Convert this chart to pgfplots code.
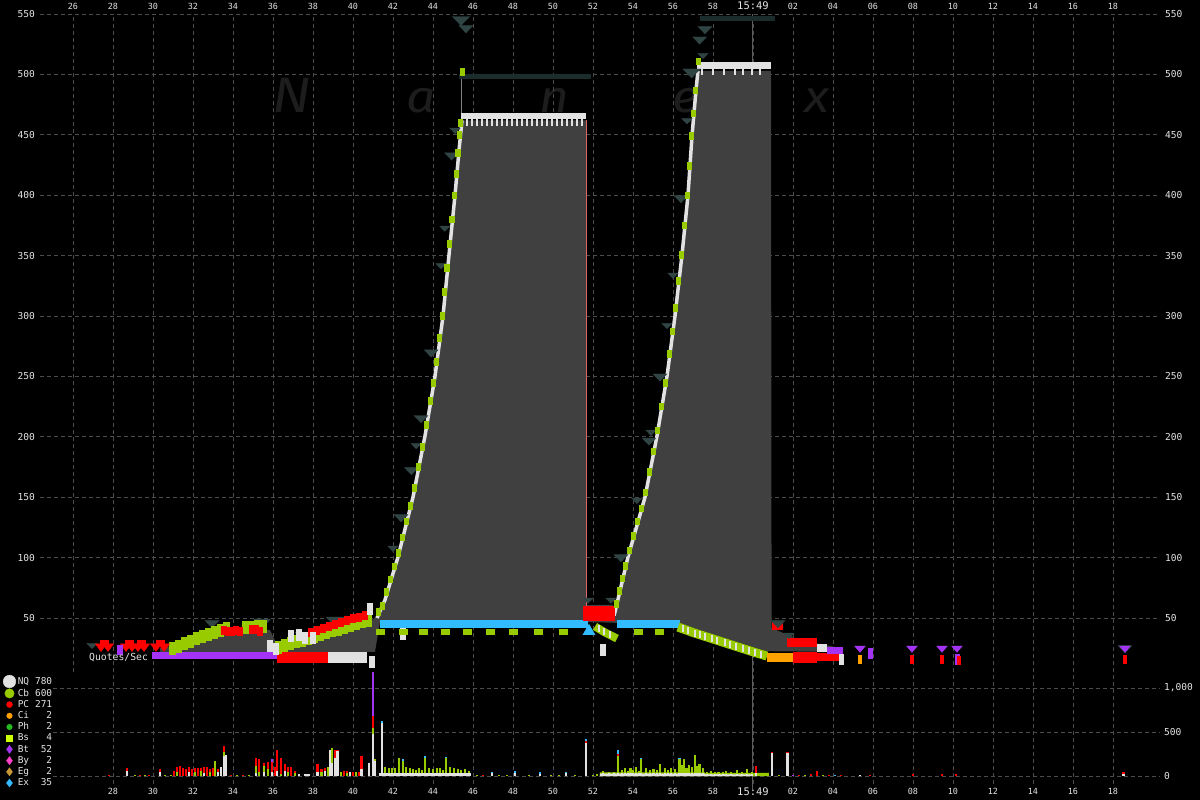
\documentclass[border=0pt]{standalone}
\usepackage{fontspec}
\setmonofont{DejaVu Sans Mono}
\newfontfamily\wmfont{Fira Sans}
\usepackage{pgfplots}
\usepackage{pgfplotstable}
\pgfplotsset{compat=1.18}

\definecolor{gridD}{HTML}{4C4C4C}
\definecolor{labW}{HTML}{E4E4E4}
\definecolor{sprd}{HTML}{404040}
\definecolor{cNQ}{HTML}{E2E2E2}
\definecolor{cCb}{HTML}{99CC00}
\definecolor{cPC}{HTML}{FF0000}
\definecolor{cCi}{HTML}{FFA200}
\definecolor{cPh}{HTML}{22BB22}
\definecolor{cBs}{HTML}{CCFF00}
\definecolor{cBt}{HTML}{A433F5}
\definecolor{cBy}{HTML}{FF40C8}
\definecolor{cEg}{HTML}{C89632}
\definecolor{cEx}{HTML}{33BBFF}
\definecolor{tri}{HTML}{304444}
\definecolor{triD}{HTML}{1B2C2C}
\definecolor{wmark}{HTML}{1D1D1D}
\definecolor{vline}{HTML}{5E5E5E}
\definecolor{pinkL}{HTML}{E06464}

\newcommand\ftx{\ttfamily\fontsize{8.5}{9}\selectfont}
\newcommand\fty{\ttfamily\fontsize{9.6}{10}\selectfont}
\newcommand\fth{\fontsize{10.5}{11}\selectfont}
\newcommand\lgd[2]{#1\makebox[23bp][r]{#2}}

\pgfplotsset{
  nxbase/.style={
    scale only axis, clip=false,
    axis line style={draw=none},
    major tick style={draw=none},
    grid style={gridD, line width=0.9bp, dash pattern=on 4bp off 3bp},
    xticklabel style={font=\ftx, text=labW, inner sep=0pt},
    yticklabel style={font=\fty, text=labW, inner sep=0pt},
  },
  tri/.style={only marks, mark=triangle*, color=tri,
    mark options={rotate=180, draw=none, yscale=0.6}},
  bar/.style={line width=#1, line cap=butt, mark=none},
  tall/.style={only marks, mark=square*, mark options={draw=none, yscale=#1}},
}

% quotes per second, stacked: white NQ, green Cb, red PC, blue Ex, purple Bt
\pgfplotstableread{
s w g r b p
27.8 0 0 15 0 0
28.7 60 0 27 0 0
29.1 0 15 0 0 0
29.35 0 0 15 0 0
29.6 0 15 0 0 0
29.8 0 0 15 0 0
30.35 40 0 40 0 0
30.6 0 15 0 0 0
30.9 0 15 0 0 0
31.05 0 0 60 0 0
31.2 0 40 60 0 0
31.35 0 0 110 0 0
31.5 0 0 90 0 0
31.65 0 0 85 0 0
31.8 40 0 60 0 0
31.95 0 0 80 0 0
32.1 0 40 50 0 0
32.25 0 0 90 0 0
32.4 0 60 30 0 0
32.55 30 0 70 0 0
32.7 0 0 100 0 0
32.85 0 50 30 0 0
33.0 0 0 90 0 0
33.1 0 170 0 0 0
33.25 40 0 40 0 0
33.4 100 0 0 0 0
33.55 230 40 70 0 0
33.65 240 0 0 0 0
33.9 0 0 10 0 0
34.2 0 10 0 0 0
34.5 0 0 15 0 0
34.8 0 10 0 0 0
35.17 30 80 100 0 0
35.32 0 40 150 0 0
35.55 50 60 40 0 0
35.74 0 80 75 0 0
35.97 40 0 120 0 30
36.09 0 0 100 0 0
36.2 60 0 235 0 0
36.4 0 20 190 0 0
36.6 60 0 80 0 0
36.74 0 40 60 0 0
36.9 0 0 100 0 0
37.1 0 30 30 0 0
37.3 20 0 0 0 0
37.6 20 0 0 0 0
37.7 20 0 0 0 0
37.8 20 0 0 0 0
38.23 50 0 86 0 0
38.43 0 50 30 0 0
38.62 60 0 30 0 0
38.77 0 100 0 0 0
38.85 295 0 0 0 0
38.95 150 164 0 0 0
39.1 200 0 100 0 0
39.23 280 0 20 0 0
39.4 0 40 0 0 0
39.55 0 0 60 0 0
39.7 0 30 30 0 0
39.85 50 0 0 0 0
40.0 0 0 40 0 0
40.15 0 50 0 0 0
40.3 0 0 40 0 0
40.43 80 0 150 0 0
40.8 150 0 0 0 0
41.0 475 75 130 0 500
41.12 170 20 0 0 0
41.45 600 0 0 25 0
41.6 30 70 0 0 0
41.8 30 60 0 0 0
41.95 30 60 0 0 0
42.1 30 60 0 0 0
42.3 30 170 0 0 0
42.5 30 140 0 20 0
42.65 30 70 0 0 0
42.85 30 60 0 0 0
43.0 30 50 0 0 0
43.15 30 40 0 0 0
43.3 30 60 0 0 0
43.45 30 40 0 0 0
43.6 30 180 0 15 0
43.8 30 60 0 0 0
44.0 30 55 0 0 0
44.2 30 60 0 0 0
44.35 30 60 0 0 0
44.5 30 40 0 0 0
44.65 30 170 0 20 0
44.85 30 70 0 0 0
45.05 30 60 0 0 0
45.25 30 55 0 0 0
45.4 30 40 0 0 0
45.6 30 50 0 0 0
45.8 30 30 0 0 0
46.2 0 15 0 0 0
46.5 0 0 10 0 0
46.94 30 0 0 20 0
47.3 0 15 0 0 0
47.7 0 15 0 0 0
48.1 30 0 0 25 0
48.8 0 15 0 0 0
49.35 20 0 0 20 0
49.9 0 15 0 0 0
50.3 0 15 0 0 0
50.67 30 0 0 20 0
51.1 0 15 0 0 0
51.65 370 0 25 30 0
52.0 0 15 0 0 0
52.2 0 20 0 0 0
52.5 30 30 0 0 0
52.8 30 20 0 0 0
53.05 30 20 0 0 0
53.27 30 200 20 40 0
53.45 30 40 0 0 0
53.6 30 60 0 0 0
53.75 30 30 0 0 0
53.88 30 60 0 0 0
54.0 30 40 0 0 0
54.17 30 70 0 0 0
54.3 30 30 0 0 0
54.42 30 160 0 10 0
54.65 30 60 0 0 0
54.85 30 40 0 0 0
55.03 30 50 0 0 0
55.2 30 40 0 0 0
55.37 30 110 0 0 0
55.6 30 60 0 0 0
55.75 30 40 0 0 0
55.89 30 60 0 0 0
56.1 30 50 0 0 0
56.33 30 160 0 20 0
56.45 30 90 0 0 0
56.56 30 160 0 0 0
56.68 30 60 0 0 0
56.79 30 90 0 0 0
56.95 30 70 0 0 0
57.11 30 210 0 0 0
57.22 30 80 0 0 0
57.33 30 105 0 0 0
57.52 30 60 0 0 0
57.7 20 30 0 0 0
57.9 20 40 0 0 0
58.1 20 20 0 0 0
58.28 20 30 0 0 0
58.5 20 20 0 0 0
58.66 20 40 0 0 0
58.9 20 20 0 0 0
59.2 20 50 0 0 0
59.45 20 20 0 0 0
59.72 20 60 0 0 0
59.95 20 20 0 0 0
60.16 30 0 80 0 0
60.39 0 30 0 0 0
60.6 0 20 0 0 0
60.77 0 20 0 0 0
60.96 265 0 5 0 0
61.3 0 10 0 0 0
61.73 265 0 5 0 0
62.0 0 0 0 0 10
62.3 0 0 10 0 0
62.6 0 10 0 0 0
62.9 0 0 20 0 0
63.22 0 0 60 0 0
63.5 0 10 0 0 0
63.8 0 0 10 0 0
64.1 0 0 0 10 0
64.4 0 0 10 0 0
65.35 10 0 0 0 0
65.85 0 0 10 0 0
68.0 0 0 20 0 0
69.44 0 0 20 0 0
70.15 0 0 20 0 0
78.53 20 0 20 0 0
}\voldata

\begin{document}
\begin{tikzpicture}
\fill[black] (0bp,0bp) rectangle (1200bp,800bp);
\path[use as bounding box] (0bp,0bp) rectangle (1200bp,800bp);

% watermark
\begin{scope}[every node/.style={text=wmark, inner sep=0pt, anchor=base, xscale=1.15}]
\node[font=\wmfont\itshape\fontsize{50}{50}\selectfont] at (292bp,687bp) {N};
\node[font=\wmfont\itshape\fontsize{45}{45}\selectfont] at (421bp,687bp) {a};
\node[font=\wmfont\itshape\fontsize{45}{45}\selectfont] at (554bp,687bp) {n};
\node[font=\wmfont\itshape\fontsize{45}{45}\selectfont] at (686bp,687bp) {e};
\node[font=\wmfont\itshape\fontsize{45}{45}\selectfont] at (817bp,687bp) {x};
\end{scope}

% ---------- price panel ----------
\begin{axis}[nxbase, at={(40bp,128bp)}, anchor=south west,
  width=1120bp, height=658bp,
  xmin=24.35, xmax=80.35, ymin=5.3, ymax=550,
  xtick={26,28,...,78},
  xticklabels={26,28,30,32,34,36,38,40,42,44,46,48,50,52,54,56,58,{\fth 15:49},02,04,06,08,10,12,14,16,18},
  xticklabel pos=upper,
  xticklabel style={anchor=south, yshift=4bp},
  ytick={50,100,...,550},
  yticklabels={50,100,150,200,250,300,350,400,450,500,550},
  yticklabel style={anchor=east, xshift=-5bp},
  grid=major]

\addplot[vline, line width=1bp] coordinates {(60,5.3) (60,550)};
\addplot[gray, line width=1bp] coordinates {(45.45,465) (45.45,500)};

% NBBO spread
\addplot[fill=sprd, draw=none] coordinates {
 (30.35,25.2) (31.0,27) (32.35,31.8) (33.7,40.5) (34.35,40.1) (35.85,40.1)
 (36.2,27.6) (37.35,31.8) (38.85,38.4) (40.35,44.2) (40.95,48.3) (41.25,52.5)
 (41.6,65) (42.25,100.5) (43.0,150) (43.6,200.7) (44.1,250) (44.5,300)
 (44.8,350.5) (45.1,400) (45.3,437) (45.45,462) (51.65,462) (51.67,60.8)
 (53.0,60.8) (53.1,55) (53.75,100.5) (54.6,150) (55.2,200.7) (55.7,250)
 (56.1,300) (56.45,350.5) (56.75,400) (56.95,449) (57.15,487) (57.25,503)
 (60.9,503) (60.93,41.7) (62.35,31.8) (64.35,25.2)
 (64.35,21.9) (60.9,22.5) (60.7,22.5) (60.0,26) (59.25,30) (58.5,34)
 (57.75,38) (57.0,42) (56.25,46) (53.2,46) (51.65,46.7) (41.35,46.7)
 (41.1,22) (30.35,22)};

\addplot[pinkL, line width=1bp] coordinates {(51.68,60) (51.68,462)};

% dark trade bands at top
\addplot[triD, bar=5bp] coordinates {(45.3,498.5) (51.9,498.5)};
\addplot[triD, bar=5bp] coordinates {(57.35,546) (61.1,546)};

% dark triangles
\addplot[tri, mark size=10bp] coordinates {
 (35.45,46.7) (39.1,48.3) (45.4,545.4) (56.93,502)};
\addplot[tri, mark size=8bp] coordinates {
 (32.95,45.9) (40.6,50.8) (42.4,133.6) (42.92,172.5) (43.4,215.6)
 (43.91,270) (44.93,433) (45.65,538.4) (53.4,100.5) (54.8,197) (55.35,250)
 (56.4,397.7) (57.6,537.6) (57.33,529) (61.25,45.9) (78.6,25.2)};
\addplot[tri, mark size=6bp] coordinates {
 (26.95,27.6) (33.35,41.7) (35.25,41.7) (37.35,36.8) (38.75,40) (42.0,108)
 (43.16,193) (44.4,342) (44.59,373) (45.1,454) (51.75,65) (52.9,65)
 (54.2,147.7) (54.9,204) (55.7,292.5) (56.0,334) (56.7,462) (57.5,516)
 (61.8,36) (65.35,25.2) (67.95,25.2) (69.45,25.2) (70.2,25.2)};

% pre-41 bids
\addplot[cBt, bar=7bp] coordinates {(29.95,19) (36.2,19)};
\addplot[cPC, bar=11bp] coordinates {(36.2,17.4) (38.75,17.4)};
\addplot[cNQ, bar=11bp] coordinates {(38.75,17.4) (40.7,17.4)};

% pre-41 asks
\addplot[tall=2, color=cCb, mark size=3bp] coordinates {
 (30.95,25) (31.25,27) (31.55,29) (31.85,31) (32.15,33) (32.45,35)
 (32.75,36.5) (33.05,38) (33.35,40) (33.65,41.5) (34.6,42) (34.9,42.5)
 (35.2,43) (35.5,43.5) (36.25,26) (36.55,27.5) (36.85,29) (37.15,30.5)
 (37.45,32) (37.75,33.5) (38.05,35) (38.35,36.5) (38.65,38) (38.95,39.5)
 (39.25,41) (39.55,42.5) (39.85,44) (40.15,45.5) (40.45,47) (40.75,48.5)};
\addplot[tall=1.6, color=cPC, mark size=2.5bp] coordinates {
 (33.55,40) (33.75,39) (33.95,39) (34.15,40) (34.35,39) (34.95,40.5)
 (35.15,41) (35.35,39) (37.9,38) (38.2,40) (38.5,41.5) (38.8,43.5)
 (39.1,45) (39.4,46.5) (39.7,48) (40.0,49.5) (40.3,51) (40.6,52.5)};
\addplot[only marks, mark=triangle*, color=cPC, mark size=6.5bp,
  mark options={rotate=180, draw=none, yscale=0.8}] coordinates {
 (27.4,26.5) (27.75,26.5) (28.65,26.5) (28.95,26.5) (29.25,26.5)
 (29.55,26.5) (30.15,26.5) (30.55,26.5)};
\addplot[tall=0.6, color=cPC, mark size=4bp] coordinates {
 (27.55,29.5) (28.8,29.5) (29.4,29.5) (30.35,29.5)};
\addplot[tall=1.8, color=cBt, mark size=2.5bp] coordinates {(28.35,24)};
\addplot[tall=2.2, color=cNQ, mark size=2.5bp] coordinates {
 (35.85,27) (36.15,25) (36.9,35) (37.3,36) (37.6,34) (38.0,34)
 (40.85,57.5) (40.95,14) (42.5,37) (52.5,24)};

% Ex bid
\addplot[cEx, bar=8bp] coordinates {(41.35,45) (51.75,45)};
\addplot[cEx, bar=8bp] coordinates {(53.2,45) (56.35,45)};
\addplot[only marks, mark=triangle*, color=cEx, mark size=7bp,
  mark options={draw=none}] coordinates {(51.8,39)};
\addplot[only marks, mark=square*, color=cCb, mark size=2.5bp,
  mark options={draw=none, xscale=1.5}] coordinates {
 (41.35,39) (42.5,39) (43.5,39) (44.6,39) (45.7,39) (46.85,39)
 (48.0,39) (49.25,39) (50.5,39) (54.25,39) (55.3,39)};

% falling Cb bids
\addplot[cCb, bar=9bp] coordinates {
 (56.25,42.5) (57.0,38) (57.75,34) (58.5,30) (59.25,26) (60.0,22) (60.7,18.5)};
\addplot[cCb, bar=8bp] coordinates {(52.1,43) (52.6,38) (53.2,33)};
\addplot[only marks, mark=|, color=cNQ, mark size=3.5bp, line width=1.5bp]
 coordinates {
 (56.5,41) (56.75,39.5) (57.1,37.5) (57.35,36) (57.6,35) (57.95,33)
 (58.2,31.5) (58.6,29.5) (58.85,28) (59.15,26.5) (59.5,25) (59.8,23)
 (60.1,21.5) (60.4,20) (52.3,41) (52.55,38.5) (52.85,36)};

% NQ asks on the two climbs
\addplot[cNQ, line width=3.5bp, line join=round] coordinates {
 (41.2,50) (41.6,65) (42.25,100.5) (43.0,150) (43.6,200.7) (44.1,250)
 (44.5,300) (44.8,350.5) (45.1,400) (45.3,437) (45.45,462)};
\addplot[cNQ, line width=3.5bp, line join=round] coordinates {
 (53.05,52) (53.1,55) (53.75,100.5) (54.6,150) (55.2,200.7) (55.7,250)
 (56.1,300) (56.45,350.5) (56.75,400) (56.95,449) (57.15,487) (57.25,503)};
\addplot[cNQ, bar=6bp] coordinates {(45.4,465.5) (51.65,465.5)};
\addplot[cNQ, bar=7bp] coordinates {(57.2,507.5) (60.9,507.5)};
\addplot[only marks, mark=|, color=cNQ, mark size=3.5bp, line width=2bp]
 coordinates {
 (45.7,460.5) (45.95,460.5) (46.2,460.5) (46.45,460.5) (46.7,460.5)
 (46.95,460.5) (47.2,460.5) (47.45,460.5) (47.7,460.5) (47.95,460.5)
 (48.2,460.5) (48.45,460.5) (48.7,460.5) (48.95,460.5) (49.2,460.5)
 (49.45,460.5) (49.7,460.5) (49.95,460.5) (50.2,460.5) (50.45,460.5)
 (50.7,460.5) (50.95,460.5) (51.2,460.5) (51.45,460.5)
 (57.45,502) (58.0,502) (58.55,502) (59.1,502) (59.5,502) (59.95,502)
 (60.35,502)};

% Cb asks on the climbs
\addplot[tall=1.5, color=cCb, mark size=2.2bp] coordinates {
 (41.25,55) (41.45,60) (41.65,72) (41.85,82) (42.05,93) (42.25,104)
 (42.45,117) (42.65,130) (42.85,143) (43.05,158) (43.25,175) (43.45,192)
 (43.65,210) (43.85,230) (44.0,245) (44.15,262) (44.3,282) (44.45,300)
 (44.57,320) (44.69,340) (44.81,360) (44.93,380) (45.05,400) (45.15,418)
 (45.23,435) (45.31,450) (45.37,460) (45.45,502)
 (53.15,62) (53.3,72.5) (53.45,83) (53.6,93.5) (53.8,106) (54.0,118)
 (54.2,130) (54.4,141) (54.6,154) (54.8,171) (55.0,188) (55.2,205.6)
 (55.4,225.4) (55.6,245) (55.8,268.8) (55.95,287.5) (56.1,307) (56.25,329)
 (56.4,350.5) (56.55,375) (56.7,400) (56.8,424.5) (56.9,449) (57.0,468)
 (57.1,487) (57.25,511)};

% PC block between the climbs
\addplot[cPC, bar=15bp] coordinates {(51.5,53.8) (53.1,53.8)};

% after 15:49
\addplot[cCi, bar=9bp] coordinates {(60.7,17.5) (62.0,17.5)};
\addplot[cPC, bar=9bp] coordinates {(60.95,43.7) (61.5,43.7)};
\addplot[cPC, bar=9bp] coordinates {(61.7,29.5) (63.2,29.5)};
\addplot[cPC, bar=11bp] coordinates {(62.0,17.4) (63.2,17.4)};
\addplot[cPC, bar=8bp] coordinates {(63.2,18) (64.35,18)};
\addplot[cNQ, bar=8bp] coordinates {(63.2,25.5) (63.7,25.5)};
\addplot[cBt, bar=7bp] coordinates {(63.7,23.3) (64.5,23.3)};
\addplot[tall=2.5, color=cNQ, mark size=2bp] coordinates {(64.4,16)};
\addplot[only marks, mark=triangle*, color=cBt, mark size=6bp,
  mark options={rotate=180, draw=none, yscale=0.7}] coordinates {
 (65.35,25) (67.95,25) (69.45,25) (70.2,25) (78.6,25)};
\addplot[tall=2.5, color=cBt, mark size=2bp] coordinates {(65.85,21) (70.2,16)};
\addplot[tall=2.5, color=cCi, mark size=1.5bp] coordinates {(65.35,16)};
\addplot[tall=2.5, color=cPC, mark size=1.5bp] coordinates {
 (67.95,16) (69.45,16) (70.3,15) (78.6,16)};
\end{axis}

% right-hand price labels
\begin{axis}[nxbase, at={(40bp,128bp)}, anchor=south west,
  width=1120bp, height=658bp,
  xmin=24.35, xmax=80.35, ymin=5.3, ymax=550,
  xtick=\empty, ytick={50,100,...,550},
  yticklabels={50,100,150,200,250,300,350,400,450,500,550},
  yticklabel pos=right,
  yticklabel style={anchor=west, xshift=5bp}]
\end{axis}

\node[anchor=west, inner sep=0pt, text=labW,
  font=\ttfamily\fontsize{9.8}{10}\selectfont] at (89bp,142.5bp) {Quotes/Sec};

% ---------- quotes per second panel ----------
\begin{axis}[nxbase, at={(53bp,16bp)}, anchor=south west,
  width=1107bp, height=112bp,
  xmin=25, xmax=80.35, ymin=-90.9, ymax=1181.8,
  xtick={28,30,...,78},
  xticklabels={28,30,32,34,36,38,40,42,44,46,48,50,52,54,56,58,{\fth 15:49},02,04,06,08,10,12,14,16,18},
  xticklabel style={anchor=north, yshift=-4bp},
  ytick={0,500,1000}, yticklabels={0,500,{1,000}},
  yticklabel pos=right,
  yticklabel style={anchor=west, xshift=4bp},
  grid=major,
  legend image code/.code={\draw[#1] plot coordinates {(0bp,0bp)};},
  legend style={at={(axis description cs:0,1)}, anchor=north west,
    xshift=-50bp, yshift=-3bp, draw=none, fill=none, inner sep=0pt,
    row sep=0bp, column sep=2bp, text=labW,
    font=\ttfamily\fontsize{9.5}{10}\selectfont,
    nodes={inner sep=0pt, minimum height=11.2bp}},
  legend cell align=left]

\addlegendimage{only marks, mark=*, mark size=6.3bp, cNQ}
\addlegendentry{\lgd{NQ}{780}}
\addlegendimage{only marks, mark=*, mark size=4.7bp, cCb}
\addlegendentry{\lgd{Cb}{600}}
\addlegendimage{only marks, mark=*, mark size=3bp, cPC}
\addlegendentry{\lgd{PC}{271}}
\addlegendimage{only marks, mark=*, mark size=2.8bp, cCi}
\addlegendentry{\lgd{Ci}{2}}
\addlegendimage{only marks, mark=*, mark size=2.8bp, cPh}
\addlegendentry{\lgd{Ph}{2}}
\addlegendimage{only marks, mark=square*, mark size=2.8bp, cBs}
\addlegendentry{\lgd{Bs}{4}}
\addlegendimage{only marks, mark=diamond*, mark size=4bp, cBt}
\addlegendentry{\lgd{Bt}{52}}
\addlegendimage{only marks, mark=diamond*, mark size=4bp, cBy}
\addlegendentry{\lgd{By}{2}}
\addlegendimage{only marks, mark=diamond*, mark size=4bp, cEg}
\addlegendentry{\lgd{Eg}{2}}
\addlegendimage{only marks, mark=diamond*, mark size=4bp, cEx}
\addlegendentry{\lgd{Ex}{35}}

\addplot[vline, line width=1bp] coordinates {(60,-160) (60,1181.8)};

\addplot[fill=cCb, draw=none] coordinates {
 (52.35,0) (52.35,42) (57.6,42) (57.6,35) (60.8,35) (60.8,0)};
\addplot[fill=cNQ, draw=none] coordinates {
 (41.3,0) (41.3,30) (45.9,30) (45.9,0)};
\addplot[fill=cNQ, draw=none] coordinates {
 (52.35,0) (52.35,28) (57.6,28) (57.6,18) (60.0,18) (60.0,0)};

\addplot[ycomb, cBt, bar=2.2bp] table[x=s,
  y expr=\thisrow{w}+\thisrow{g}+\thisrow{r}+\thisrow{b}+\thisrow{p}] {\voldata};
\addplot[ycomb, cEx, bar=2.2bp] table[x=s,
  y expr=\thisrow{w}+\thisrow{g}+\thisrow{r}+\thisrow{b}] {\voldata};
\addplot[ycomb, cPC, bar=2.2bp] table[x=s,
  y expr=\thisrow{w}+\thisrow{g}+\thisrow{r}] {\voldata};
\addplot[ycomb, cCb, bar=2.2bp] table[x=s,
  y expr=\thisrow{w}+\thisrow{g}] {\voldata};
\addplot[ycomb, cNQ, bar=2.2bp] table[x=s, y=w] {\voldata};
\end{axis}
\end{tikzpicture}
\end{document}
